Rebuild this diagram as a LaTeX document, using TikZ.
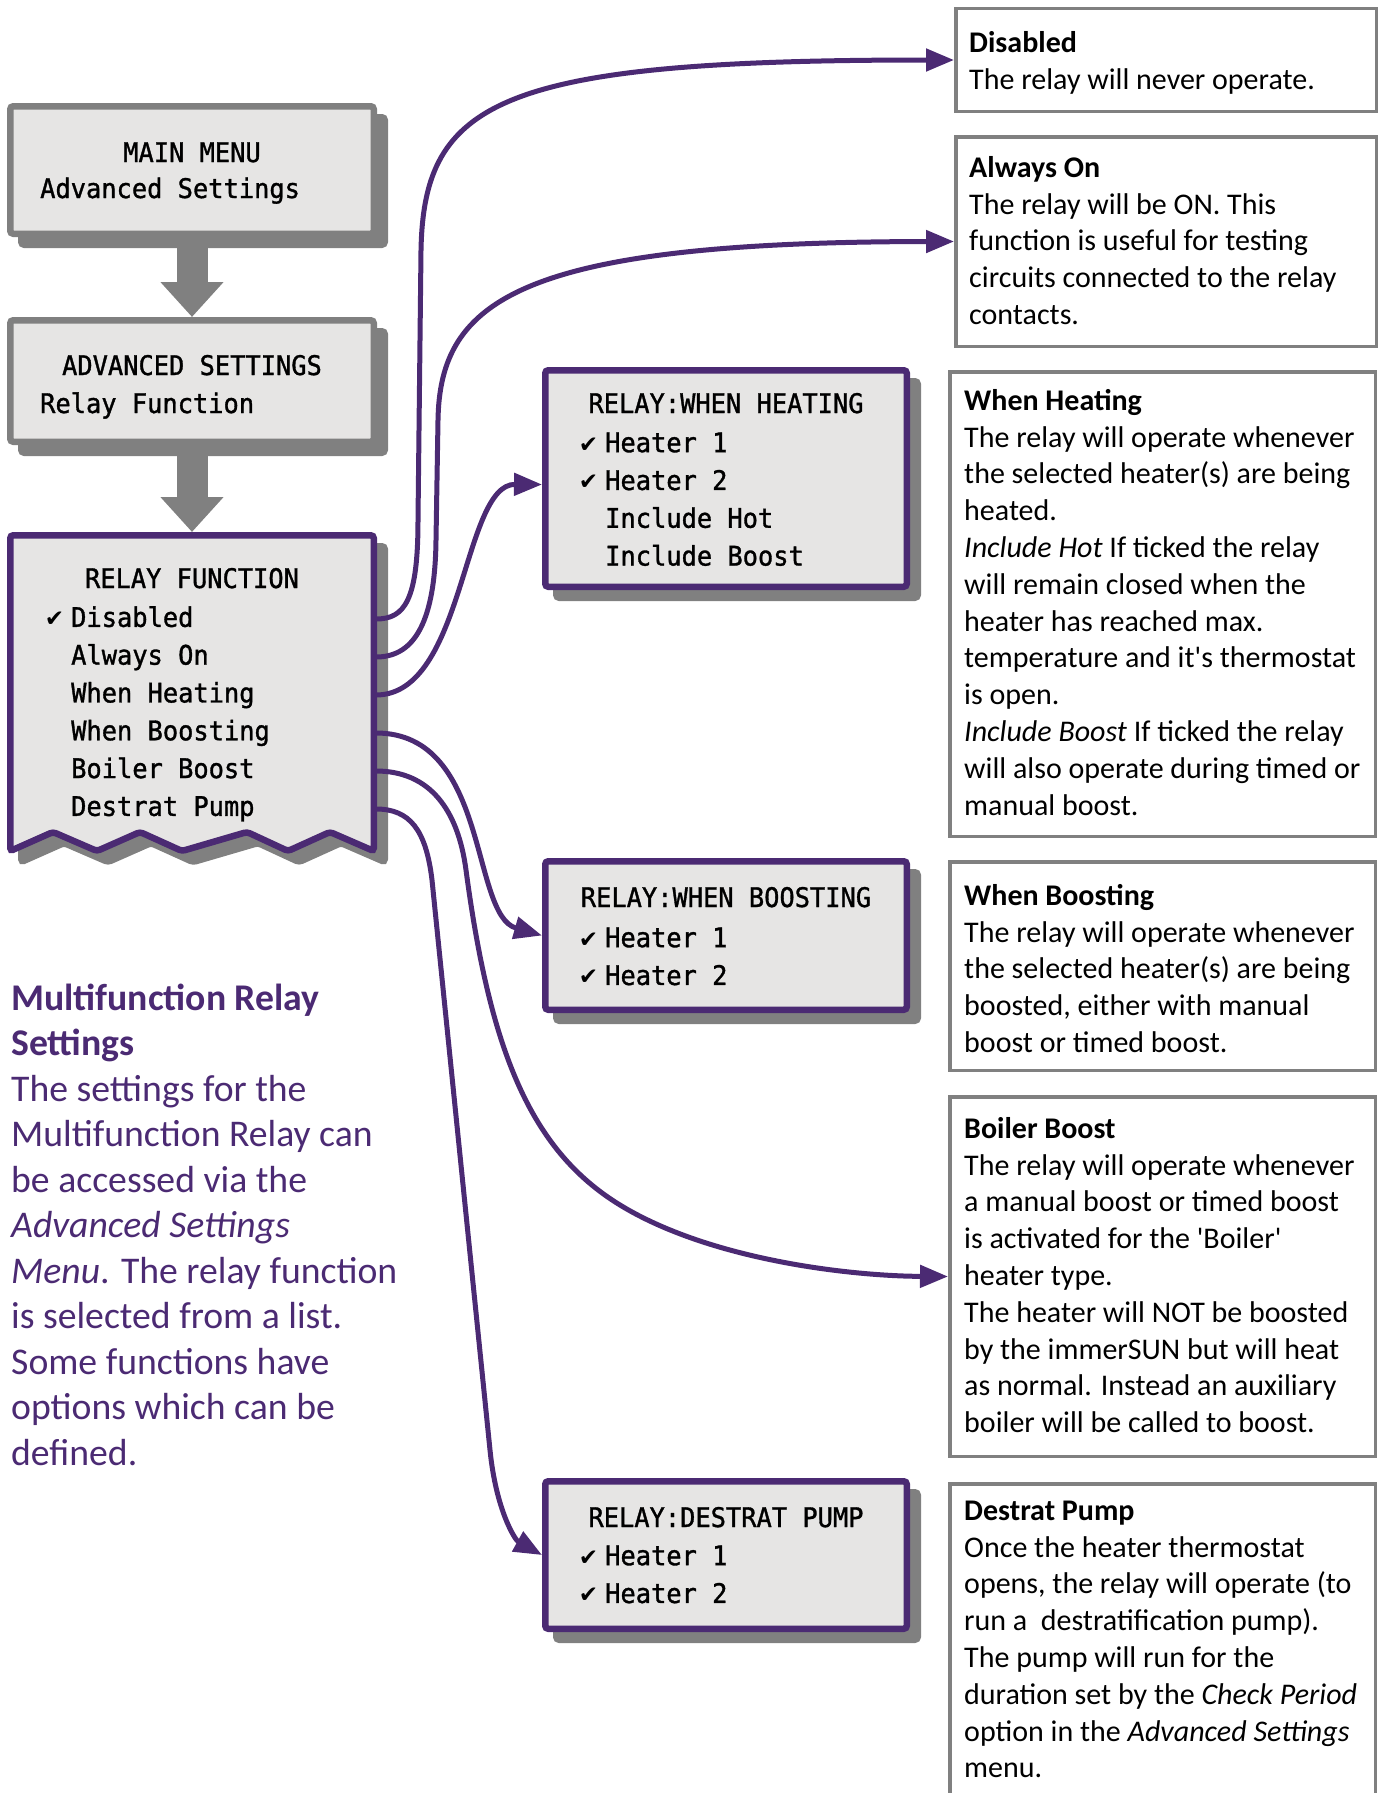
\documentclass[tikz,border=0pt]{standalone}
\usepackage{fontspec}
\setmainfont{Carlito}
\newfontfamily\lcdfont[FakeStretch=0.94, FakeBold=1.2]{DejaVu Sans Mono}
\newfontfamily\symfont{DejaVu Sans}
\usetikzlibrary{arrows.meta, positioning, shadows}
\definecolor{purp}{RGB}{75,42,115}
\definecolor{lcdfill}{RGB}{230,229,228}
\definecolor{shgray}{RGB}{128,128,128}
\definecolor{notegray}{RGB}{128,128,128}
\newcommand\tickmk{\llap{{\symfont\fontsize{23}{23}\selectfont ✔}\hspace{7pt}}}
\tikzset{
  lcd/.style={draw=purp, line width=6.5pt, fill=lcdfill, rounded corners=3pt, inner sep=0pt,
    drop shadow={shadow xshift=11pt, shadow yshift=-11pt, fill=shgray, draw=shgray, opacity=1}},
  menu/.style={lcd, draw=shgray},
  lcdtext/.style={font=\lcdfont\fontsize{27}{37.8}\selectfont, inner sep=0pt, align=left},
  note/.style={draw=notegray, line width=3.5pt, fill=white, inner sep=0pt},
  notetext/.style={font=\fontsize{30}{36.8}\selectfont, inner sep=0pt, align=left, anchor=north west},
  link/.style={draw=purp, line width=5pt, -{Triangle[length=28pt, width=22pt]}},
  godown/.style={draw=shgray, line width=31pt, -{Triangle[length=35pt, width=61pt]}},
}

\begin{document}
\begin{tikzpicture}[x=1pt, y=-1pt]
  \useasboundingbox (0,0) rectangle (1384,1793);
  \clip (0,0) rectangle (1384,1793);

  % menu screens
  \node[menu, minimum width=363.5pt, minimum height=127.5pt] (mm) at (192,170) {};
  \node[lcdtext, anchor=base] (mm-title) at (192,162) {MAIN MENU};
  \node[lcdtext, anchor=base west] (mm-item) at (40,198) {Advanced Settings};

  \node[menu, minimum width=363.5pt, minimum height=121.5pt] (adv) at (192,381) {};
  \node[lcdtext, anchor=base] (adv-title) at (192,375) {ADVANCED SETTINGS};
  \node[lcdtext, anchor=base west] (adv-item) at (40,413) {Relay Function};

  \coordinate (rftop) at (192,532);
  \draw[godown] (mm.south) -- (adv.north);
  \draw[godown] (adv.south) -- (rftop);

  % relay function list with torn bottom
  \filldraw[shgray, line width=6.5pt, rounded corners=3pt, shift={(11,11)}]
    (10.25,535.25) -- (373.75,535.25) -- (373.75,851) -- (330,832) -- (288,851) -- (247,832)
    -- (182,851) -- (140,832) -- (97,851) -- (53,832) -- (10.25,851) -- cycle;
  \filldraw[draw=purp, fill=lcdfill, line width=6.5pt, rounded corners=3pt]
    (10.25,535.25) -- (373.75,535.25) -- (373.75,851) -- (330,832) -- (288,851) -- (247,832)
    -- (182,851) -- (140,832) -- (97,851) -- (53,832) -- (10.25,851) -- cycle;
  \node[lcdtext, anchor=base] (rf-title) at (192,588) {RELAY FUNCTION};
  \node[lcdtext, anchor=north west] (rf-items) at (71,600.2)
    {\strut\tickmk Disabled\\ Always On\\ When Heating\\ When Boosting\\ Boiler Boost\\ Destrat Pump};
  \foreach \n/\y in {dis/619, aon/657, hea/695, boo/733, bb/771, dp/809}
    \coordinate (rf-\n) at (376,\y);

  % option screens
  \node[lcd, minimum width=361.5pt, minimum height=216.5pt] (relheat) at (726,478.5) {};
  \node[lcdtext, anchor=base] (relheat-title) at (726,413) {RELAY:WHEN HEATING};
  \node[lcdtext, anchor=north west] (relheat-items) at (605,425.5)
    {\strut\tickmk Heater 1\\ \tickmk Heater 2\\ Include Hot\\ Include Boost};

  \node[lcd, minimum width=361.5pt, minimum height=148.5pt] (relboost) at (726,935.5) {};
  \node[lcdtext, anchor=base] (relboost-title) at (726,907) {RELAY:WHEN BOOSTING};
  \node[lcdtext, anchor=north west] (relboost-items) at (605,920.5)
    {\strut\tickmk Heater 1\\ \tickmk Heater 2};

  \node[lcd, minimum width=361.5pt, minimum height=147.5pt] (reldestrat) at (726,1555) {};
  \node[lcdtext, anchor=base] (reldestrat-title) at (726,1527) {RELAY:DESTRAT PUMP};
  \node[lcdtext, anchor=north west] (reldestrat-items) at (605,1538.5)
    {\strut\tickmk Heater 1\\ \tickmk Heater 2};

  % explanations
  \node[note, minimum width=420.5pt, minimum height=102.5pt] (ndis) at (1166,60) {};
  \node[notetext] (ndis-text) at (969,26.24)
    {\strut\textbf{Disabled}\\ The relay will never operate.};

  \node[note, minimum width=420.5pt, minimum height=209.5pt] (naon) at (1166,241.5) {};
  \node[notetext] (naon-text) at (969,151.24)
    {\strut\textbf{Always On}\\ The relay will be ON. This\\ function is useful for testing\\
     circuits connected to the relay\\ contacts.};

  \node[note, minimum width=425.5pt, minimum height=464.5pt] (nheat) at (1162.5,604) {};
  \node[notetext] (nheat-text) at (964,384.24)
    {\strut\textbf{When Heating}\\ The relay will operate whenever\\ the selected heater(s) are being\\
     heated.\\ \textit{Include Hot} If ticked the relay\\ will remain closed when the\\
     heater has reached max.\\ temperature and it\textquotesingle s thermostat\\ is open.\\
     \textit{Include Boost} If ticked the relay\\ will also operate during timed or\\ manual boost.};

  \node[note, minimum width=425.5pt, minimum height=208.5pt] (nboost) at (1162.5,966) {};
  \node[notetext] (nboost-text) at (964,879.24)
    {\strut\textbf{When Boosting}\\ The relay will operate whenever\\ the selected heater(s) are being\\
     boosted, either with manual\\ boost or timed boost.};

  \node[note, minimum width=425.5pt, minimum height=359.5pt] (nboiler) at (1162.5,1276.5) {};
  \node[notetext] (nboiler-text) at (964,1112.24)
    {\strut\textbf{Boiler Boost}\\ The relay will operate whenever\\ a manual boost or timed boost\\
     is activated for the \textquotesingle Boiler\textquotesingle\\ heater type.\\ The heater will NOT be boosted\\
     by the immerSUN but will heat\\ as normal. Instead an auxiliary\\ boiler will be called to boost.};

  \node[note, minimum width=425.5pt, minimum height=340pt] (ndestrat) at (1162.5,1653.75) {};
  \node[notetext] (ndestrat-text) at (964,1494.24)
    {\strut\textbf{Destrat Pump}\\ Once the heater thermostat\\ opens, the relay will operate (to\\
     run a\ \ destratification pump).\\ The pump will run for the\\
     duration set by the \textit{Check Period}\\ option in the \textit{Advanced Settings}\\ menu.};

  % intro text
  \node[notetext, font=\fontsize{37.7}{45.5}\selectfont, text=purp] (intro) at (11,978.15)
    {\strut\textbf{Multifunction Relay}\\ \textbf{Settings}\\ The settings for the\\
     Multifunction Relay can\\ be accessed via the\\ \textit{Advanced Settings}\\
     \textit{Menu}. The relay function\\ is selected from a list.\\ Some functions have\\
     options which can be\\ defined.};

  % connectors
  \draw[link] (rf-dis) .. controls (405,619) and (418,600) .. (418,520) -- (421,250)
    .. controls (424,100) and (500,60) .. (ndis.west);
  \draw[link] (rf-aon) .. controls (410,657) and (435,630) .. (436,540) -- (438,420)
    .. controls (440,300) and (520,242) .. (naon.west);
  \draw[link] (rf-hea) .. controls (465,695) and (462,484) .. ([yshift=-6pt]relheat.west);
  \draw[link] (rf-boo) .. controls (490,733) and (470,915) .. (relboost.west);
  \draw[link] (rf-bb) .. controls (430,771) and (458,810) .. (466,870)
    .. controls (490,1050) and (530,1150) .. (620,1205)
    .. controls (710,1260) and (850,1276) .. (nboiler.west);
  \draw[link] (rf-dp) .. controls (410,809) and (426,830) .. (432,880) -- (490,1450)
    .. controls (496,1510) and (515,1540) .. (reldestrat.west);
\end{tikzpicture}
\end{document}
